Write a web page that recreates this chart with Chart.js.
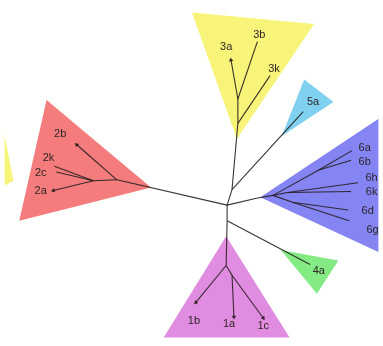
<!DOCTYPE html>
<html>
<head>
<meta charset="utf-8">
<script src="https://cdn.jsdelivr.net/npm/chart.js@4.4.1/dist/chart.umd.min.js"></script>
<style>
  html, body { margin: 0; padding: 0; background: #ffffff; }
  #wrap { width: 383px; height: 346px; position: relative; }
</style>
</head>
<body>
<div id="wrap"><canvas id="tree"></canvas></div>
<script>
// Unrooted genotype tree: clade shading, branches and subtype labels.

// Clade shading triangles (tree-space coordinates)
const cladeNames = ['1', '2', '3', '4', '5', '6', '7'];
const cladeColors = ['#e08ce0', '#f47c7c', '#f8f47a', '#84ea84', '#80d0f0', '#8484f2', '#f8f47a'];
const clade1 = [[227, 238], [292, 342], [163, 342]];
const clade2 = [[43, 98], [150, 188], [15, 222]];
const clade3 = [[192, 8], [317, 20], [238, 138]];
const clade4 = [[283, 252], [342, 263], [320, 297]];
const clade5 = [[307, 77], [337, 100], [284, 135]];
const clade6 = [[262, 198], [400, 106], [400, 262]];
const clade7 = [[9, 181], [-20, 30], [-60, 219]];
const clades = [clade1, clade2, clade3, clade4, clade5, clade6, clade7];

// Branch paths (node -> node -> tip)
const branches = [
  [[228, 206], [115, 180]],
  [[115, 180], [74, 144]],
  [[115, 180], [91, 181]],
  [[91, 181], [51, 166]],
  [[91, 181], [53, 172]],
  [[91, 181], [50, 191]],
  [[228, 206], [233, 190], [239, 122], [239, 97], [232, 57]],
  [[239, 97], [259, 38]],
  [[239, 122], [272, 73]],
  [[233, 190], [306, 110]],
  [[228, 206], [258, 199], [275, 196]],
  [[275, 196], [322, 170], [356, 150]],
  [[322, 170], [355, 160]],
  [[275, 196], [290, 193], [362, 183]],
  [[290, 193], [355, 192]],
  [[275, 196], [295, 203], [352, 211]],
  [[295, 203], [353, 222]],
  [[228, 206], [228, 222], [227, 268]],
  [[227, 268], [196, 306]],
  [[227, 268], [233, 278], [235, 321]],
  [[233, 278], [265, 322]],
  [[228, 222], [313, 267]]
];

// Collapsed-tip markers: [tip, preceding node]
const tipMarks = [
  [[74, 144], [115, 180]],
  [[50, 191], [91, 181]],
  [[232, 57], [239, 97]],
  [[196, 306], [227, 268]],
  [[235, 321], [233, 278]],
  [[265, 322], [233, 278]]
];

// Subtype labels
const labelText = ['2b', '2k', '2c', '2a', '3a', '3b', '3k', '5a',
  '6a', '6b', '6h', '6k', '6d', '6g', '4a', '1b', '1a', '1c'];
const labelX = [57, 45, 37, 37, 227, 261, 276, 316,
  369, 369, 376, 376, 372, 377, 322, 194, 230, 265];
const labelY = [133, 158, 173, 191, 44, 31, 66, 100,
  147, 162, 178, 193, 212, 232, 274, 325, 328, 330];

const toPoints = arr => arr.map(p => ({ x: p[0], y: p[1] }));

const datasets = [];
clades.forEach((tri, i) => {
  datasets.push({
    label: 'clade ' + cladeNames[i],
    data: toPoints(tri.concat([tri[0]])),
    borderWidth: 0,
    borderColor: 'rgba(0,0,0,0)',
    backgroundColor: cladeColors[i],
    fill: 'shape',
    pointRadius: 0,
    tension: 0,
    order: 3
  });
});
branches.forEach((path, i) => {
  datasets.push({
    label: 'branch ' + i,
    data: toPoints(path),
    borderColor: 'rgba(38,30,30,0.9)',
    borderWidth: 1.1,
    fill: false,
    pointRadius: 0,
    tension: 0,
    order: 2
  });
});
datasets.push({
  label: 'tips',
  data: toPoints(tipMarks.map(t => t[0])),
  showLine: false,
  pointStyle: 'triangle',
  pointRadius: 2,
  pointBorderWidth: 0.6,
  pointBackgroundColor: 'rgba(45,25,25,0.9)',
  pointBorderColor: 'rgba(45,25,25,0.9)',
  pointRotation: tipMarks.map(t => Math.atan2(t[0][0] - t[1][0], -(t[0][1] - t[1][1])) * 180 / Math.PI),
  order: 1
});

const labelPlugin = {
  id: 'subtypeLabels',
  afterDatasetsDraw(chart) {
    const { ctx, scales } = chart;
    ctx.save();
    ctx.font = '11px "Liberation Sans", Arial, sans-serif';
    ctx.fillStyle = '#2e2626';
    ctx.textAlign = 'center';
    ctx.textBaseline = 'middle';
    labelText.forEach((t, i) => {
      ctx.fillText(t, scales.x.getPixelForValue(labelX[i]), scales.y.getPixelForValue(labelY[i]));
    });
    ctx.restore();
  }
};

new Chart(document.getElementById('tree'), {
  type: 'line',
  data: { datasets },
  options: {
    responsive: true,
    maintainAspectRatio: false,
    animation: false,
    layout: { padding: 0 },
    events: [],
    scales: {
      x: { type: 'linear', min: 0, max: 383, display: false },
      y: { type: 'linear', min: 0, max: 346, reverse: true, display: false }
    },
    plugins: {
      legend: { display: false },
      tooltip: { enabled: false },
      filler: { drawTime: 'beforeDatasetsDraw' }
    }
  },
  plugins: [labelPlugin]
});
</script>
</body>
</html>
